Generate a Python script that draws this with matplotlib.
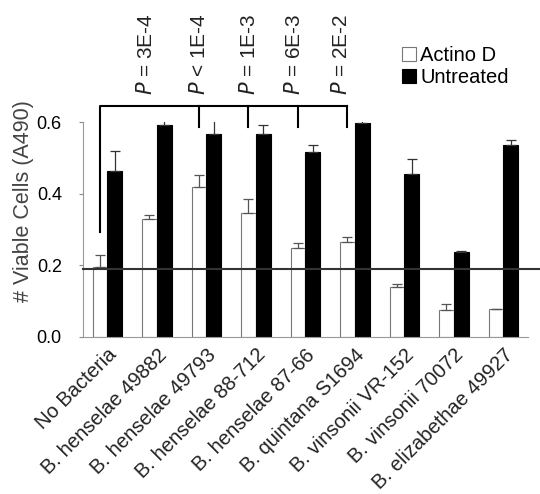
import matplotlib.pyplot as plt
import numpy as np

plt.rcParams['font.family'] = ['Liberation Sans', 'DejaVu Sans']

strains = ['No Bacteria', 'B. henselae 49882', 'B. henselae 49793', 'B. henselae 88-712',
           'B. henselae 87-66', 'B. quintana S1694', 'B. vinsonii VR-152',
           'B. vinsonii 70072', 'B. elizabethae 49927']
actino = [0.195, 0.328, 0.418, 0.346, 0.249, 0.266, 0.138, 0.076, 0.077]
actino_err = [0.033, 0.011, 0.034, 0.040, 0.012, 0.012, 0.011, 0.015, 0.002]
untreated = [0.462, 0.591, 0.567, 0.567, 0.517, 0.597, 0.456, 0.236, 0.537]
untreated_err = [0.056, 0.016, 0.040, 0.024, 0.018, 0.013, 0.040, 0.005, 0.013]

baseline = 0.19
p_labels = ['$P$ = 3E-4', '$P$ < 1E-4', '$P$ = 1E-3', '$P$ = 6E-3', '$P$ = 2E-2']
p_x = [0.79, 1.85, 2.87, 3.77, 4.72]
bracket_top = 0.644
bracket_left_bottom = 0.294
bracket_drop_bottom = 0.587
drop_groups = [2, 3, 4, 5]

x = np.arange(len(strains))
w = 0.3

fig = plt.figure(figsize=(5.4, 4.94), dpi=100)
ax = fig.add_axes([0.153, 0.318, 0.825, 0.435])

ax.bar(x - w / 2, actino, w, color='white', edgecolor='#777777', linewidth=0.8,
       label='Actino D', zorder=2)
ax.bar(x + w / 2, untreated, w, color='black', edgecolor='black', linewidth=0.8,
       label='Untreated', zorder=2)
ax.errorbar(x - w / 2, actino, yerr=[np.zeros(len(x)), actino_err], fmt='none',
            ecolor='#555555', elinewidth=0.9, capsize=3.5, capthick=0.9, zorder=3)
ax.errorbar(x + w / 2, untreated, yerr=[np.zeros(len(x)), untreated_err], fmt='none',
            ecolor='#333333', elinewidth=0.9, capsize=3.5, capthick=0.9, zorder=3)

ax.set_xlim(-0.5, len(strains) - 0.5)
ax.set_ylim(0, 0.6)

# baseline runs out to the right edge of the figure
ax.plot([-0.5, 9.0], [baseline, baseline], color='#333333', lw=1.5,
        clip_on=False, zorder=4)

# significance bracket
left = -w / 2
right = drop_groups[-1] - w / 2
ax.plot([left, left, right], [bracket_left_bottom, bracket_top, bracket_top],
        color='black', lw=1.5, clip_on=False, zorder=4)
for g in drop_groups:
    ax.plot([g - w / 2, g - w / 2], [bracket_top, bracket_drop_bottom],
            color='black', lw=1.5, clip_on=False, zorder=4)
for px, lab in zip(p_x, p_labels):
    ax.text(px, 0.675, lab, rotation=90, ha='center', va='bottom',
            fontsize=15, color='#222222')

ax.set_yticks([0, 0.2, 0.4, 0.6])
ax.set_yticklabels(['0.0', '0.2', '0.4', '0.6'], fontsize=13)
ax.set_ylabel('# Viable Cells (A490)', fontsize=15.5, color='#444444')
ax.yaxis.set_label_coords(-0.11, 0.63)
ax.set_xticks(x)
ax.set_xticklabels(strains, rotation=45, ha='right', va='top',
                   rotation_mode='anchor', fontsize=14.5, color='#222222')
ax.tick_params(axis='x', length=0, pad=6)
ax.tick_params(axis='y', length=3, color='#888888', pad=12)

for s in ['top', 'right']:
    ax.spines[s].set_visible(False)
ax.spines['left'].set_color('#999999')
ax.spines['bottom'].set_color('#999999')

ax.legend(loc='upper left', bbox_to_anchor=(0.695, 1.40), frameon=False,
          fontsize=14.5, handlelength=0.7, handleheight=0.7, handletextpad=0.2,
          labelspacing=0.15, borderpad=0)

fig.savefig('out.png', dpi=100)
